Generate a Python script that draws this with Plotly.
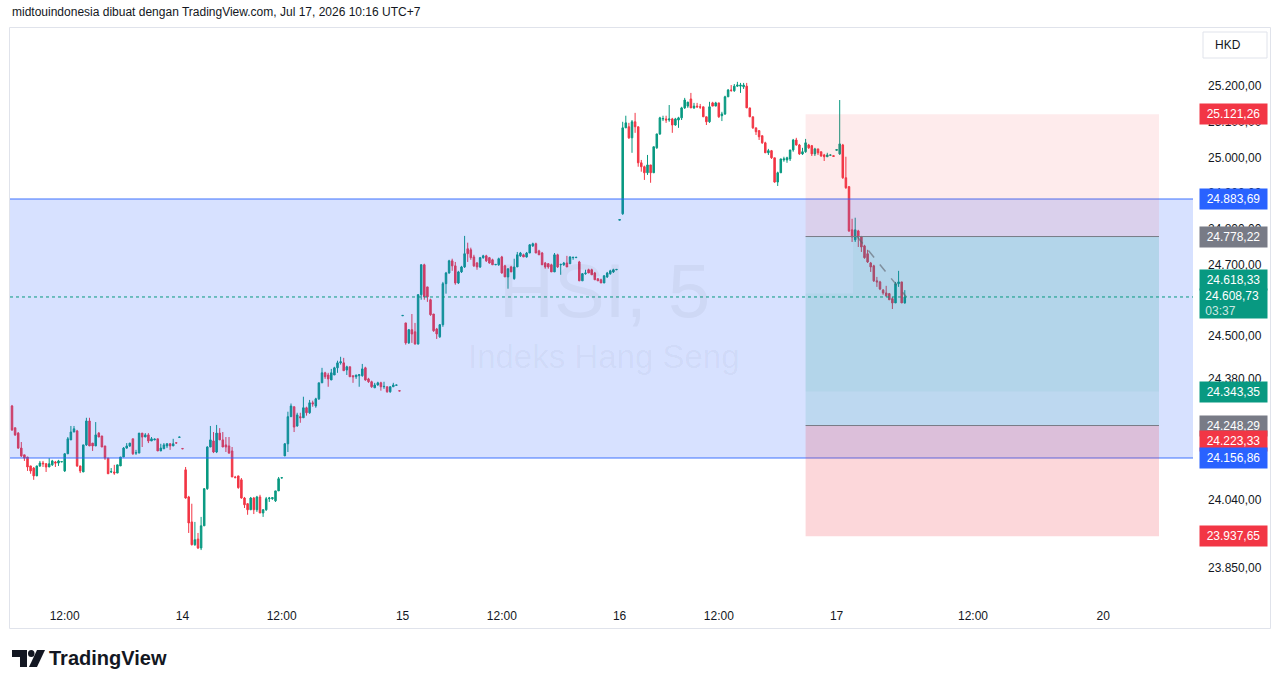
import plotly.graph_objects as go

# ---------------- data (HSI, 5-minute bars) ----------------
d13_open = [24303,24242,24227,24185,24166,24160,24135,24129,24107,24135,24143,24141,24132,24138,24146,24143,24146,24121,24169,24208,24230,24233,24135,24118,24194,24261,24199,24191,24227,24219,24191,24157,24118,24118,24115,24135,24160,24185,24191,24211,24171,24171,24227,24216,24222,24205,24208,24211,24177,24183,24191,24197,24191,24200,24215,24184]
d13_high = [24306,24242,24230,24202,24166,24160,24135,24132,24135,24149,24149,24143,24157,24152,24149,24152,24147,24171,24216,24247,24247,24236,24135,24194,24270,24270,24199,24258,24230,24219,24191,24157,24129,24138,24138,24160,24188,24199,24199,24211,24180,24227,24227,24227,24227,24216,24212,24211,24197,24199,24199,24199,24211,24200,24216,24184]
d13_low = [24233,24219,24183,24160,24149,24121,24113,24096,24107,24132,24132,24118,24132,24135,24132,24135,24146,24118,24169,24208,24230,24132,24115,24118,24191,24191,24177,24191,24216,24188,24152,24113,24115,24110,24115,24135,24160,24183,24188,24166,24166,24171,24188,24216,24199,24205,24207,24177,24177,24183,24185,24180,24191,24199,24215,24183]
d13_close = [24236,24222,24185,24163,24157,24132,24121,24107,24135,24143,24141,24132,24141,24149,24143,24149,24147,24169,24211,24230,24239,24135,24121,24194,24261,24191,24191,24222,24216,24188,24157,24113,24119,24115,24138,24160,24185,24191,24199,24169,24172,24227,24216,24222,24205,24211,24210,24177,24185,24194,24197,24191,24197,24199,24216,24183]

d14_open = [24124,24048,23978,23914,23930,23905,23967,24071,24188,24205,24174,24227,24208,24194,24191,24177,24104,24107,24096,24045,24029,24012,24045,24012,24048,24003,24012,24043,24043,24037,24065,24101,
            24163,24197,24273,24301,24247,24273,24270,24298,24284,24312,24303,24323,24368,24396,24390,24376,24390,24410,24424,24424,24404,24413,24388,24385,24388,24388,24410,24379,24371,24354,24362,24368,24357,24357,24343,24357,24361,24346]
d14_high = [24132,24051,24029,23978,23947,23992,24073,24190,24247,24230,24250,24241,24230,24216,24216,24188,24107,24107,24101,24048,24031,24048,24048,24051,24054,24014,24048,24048,24047,24065,24104,24102,
            24199,24287,24310,24301,24284,24284,24329,24301,24320,24318,24326,24368,24410,24399,24396,24407,24413,24430,24441,24438,24416,24413,24388,24390,24392,24421,24413,24382,24374,24368,24371,24371,24371,24357,24358,24368,24362,24346]
d14_low = [24043,23947,23912,23911,23902,23899,23967,24068,24188,24171,24171,24208,24188,24174,24169,24104,24101,24071,24043,24017,23998,24012,24000,24006,24003,23992,24009,24034,24040,24034,24065,24100,
           24163,24174,24273,24230,24245,24256,24270,24276,24281,24301,24298,24320,24368,24379,24357,24376,24390,24396,24419,24402,24390,24385,24368,24379,24357,24385,24374,24368,24354,24354,24360,24346,24351,24340,24340,24357,24361,24345]
d14_close = [24045,23975,23914,23928,23905,23967,24071,24188,24208,24174,24227,24208,24188,24188,24171,24104,24102,24074,24045,24026,24012,24045,24012,24048,24003,24012,24043,24045,24046,24065,24099,24102,
             24197,24273,24303,24244,24278,24270,24298,24284,24312,24309,24323,24368,24396,24385,24379,24396,24410,24424,24427,24402,24413,24385,24385,24390,24391,24407,24376,24371,24357,24362,24368,24357,24358,24343,24357,24362,24362,24345]

d15_open = [24556,24536,24480,24517,24511,24477,24615,24699,24637,24601,24561,24519,24497,24531,24646,24676,24710,24696,24648,24679,24693,24744,24741,24721,24704,24693,24719,24724,
            24719,24713,24699,24699,24721,24696,24665,24693,24660,24693,24724,24727,24721,24732,24752,24758,24738,24732,24704,24702,24699,24679,24727,24699,24699,24704,
            24702,24719,24719,24707,24654,24674,24685,24685,24676,24660,24657,24648,24665,24674,24679,24685]
d15_high = [24557,24536,24519,24561,24536,24617,24701,24702,24637,24604,24561,24522,24533,24651,24679,24713,24716,24707,24682,24696,24780,24761,24747,24727,24707,24721,24727,24727,
            24721,24716,24700,24719,24724,24699,24688,24696,24716,24735,24735,24730,24735,24757,24761,24761,24741,24735,24707,24704,24702,24732,24730,24702,24707,24724,
            24723,24721,24720,24710,24676,24685,24688,24688,24679,24660,24660,24670,24679,24685,24688,24686]
d15_low = [24556,24475,24477,24480,24475,24475,24601,24601,24595,24556,24511,24491,24494,24525,24618,24674,24682,24643,24645,24676,24690,24707,24713,24693,24685,24690,24716,24707,
           24702,24699,24698,24696,24674,24665,24632,24679,24657,24693,24721,24721,24719,24732,24749,24732,24727,24699,24688,24688,24679,24679,24690,24671,24696,24693,
           24702,24713,24718,24654,24654,24671,24676,24671,24657,24654,24648,24648,24662,24671,24676,24684]
d15_close = [24557,24480,24517,24505,24477,24615,24699,24609,24609,24559,24514,24505,24531,24646,24676,24710,24696,24648,24679,24693,24730,24730,24719,24696,24693,24719,24724,24710,
             24704,24699,24700,24716,24676,24665,24688,24679,24693,24727,24732,24721,24732,24755,24758,24732,24727,24699,24693,24693,24679,24727,24693,24700,24704,24693,
             24721,24720,24720,24654,24674,24676,24676,24671,24657,24654,24648,24668,24676,24682,24685,24686]

d16_open = [24824,24842,25083,25086,25055,25100,25086,24985,24974,24957,24979,24957,25027,25066,25108,25108,25105,25108,25091,25105,25111,25139,25144,25164,25139,25144,25142,25142,25114,25100,
            25153,25144,25153,25117,25122,25170,25189,25187,25200,25200,25198,25200,25139,25114,25083,25075,25061,25041,25013,25019,24999,24931,24957,24993,24993,24996,25021,25049,25035,25010,
            25016,25035,25033,25010,25024,25016,25007,25002,25006,25005]
d16_high = [24826,25100,25117,25097,25105,25125,25086,24993,24977,25007,24979,25030,25066,25114,25117,25117,25147,25111,25111,25114,25142,25167,25156,25181,25153,25153,25150,25142,25114,25156,
            25156,25156,25153,25128,25173,25192,25203,25206,25212,25209,25209,25209,25139,25114,25083,25077,25061,25044,25024,25021,24999,24960,24996,25002,25002,25021,25052,25055,25038,25027,
            25052,25038,25035,25027,25024,25016,25010,25013,25008,25005]
d16_low = [24824,24839,25083,25052,25013,25069,24974,24960,24937,24951,24929,24957,25024,25063,25102,25097,25100,25069,25089,25083,25105,25136,25139,25139,25136,25139,25136,25114,25091,25097,
           25144,25144,25111,25102,25119,25170,25184,25184,25198,25181,25192,25139,25114,25080,25063,25049,25038,25013,25007,24996,24929,24920,24957,24988,24985,24990,25016,25033,25007,25007,
           25013,25024,25004,25004,25007,25002,24990,25002,25006,25003]
d16_close = [24826,25083,25097,25055,25100,25086,24985,24974,24957,24979,24957,25030,25066,25111,25109,25105,25108,25091,25108,25111,25139,25161,25155,25139,25144,25142,25141,25114,25100,25142,
             25144,25153,25114,25122,25170,25189,25188,25200,25203,25203,25203,25139,25114,25083,25072,25058,25041,25013,25019,24999,24931,24957,24996,24996,24999,25021,25049,25035,25010,25016,
             25041,25027,25010,25024,25013,25004,25002,25007,25007,25003]

d17_open = [25020,25010,25035,24943,24918,24797,24769,24794,24777,24752,24730,24704,24696,24654,24651,24628,24620,24618,24604,24592,24646,24651,24592]
d17_high = [25022,25161,25038,25002,24920,24828,24831,24797,24780,24755,24741,24707,24699,24665,24654,24631,24640,24620,24609,24651,24682,24651,24628]
d17_low = [25020,25007,24940,24912,24791,24763,24763,24749,24735,24716,24704,24679,24651,24637,24628,24615,24609,24601,24575,24592,24637,24592,24590]
d17_close = [25022,25038,24943,24915,24794,24777,24797,24780,24749,24719,24707,24693,24654,24651,24631,24620,24612,24601,24592,24646,24651,24592,24608.73]

# first bar index of each session on the (gap-free) bar axis
day_start_bar = [0, 56, 126, 196, 266]

# time-axis labels
time_tick_bars = [17, 55, 87, 126, 158, 196, 228, 266, 310, 352]
time_tick_text = ["12:00", "14", "12:00", "15", "12:00", "16", "12:00", "17", "12:00", "20"]

# price-axis ticks
price_ticks = [25200, 25100, 25000, 24900, 24800, 24700, 24500, 24380, 24260, 24040, 23850]

# drawings
zone_top, zone_bottom = 24883.69, 24156.86
stop_top = 25121.26
entry_top, entry_bottom = 24778.22, 24248.29
inner_top, inner_bottom = 24618.33, 24343.35
stop_low_label = 24223.33
target_bottom = 23937.65
last_price = 24608.73
tool_start_bar, tool_inner_bar, tool_end_bar = 256, 271.3, 370
proj_start_bar, proj_end_bar = 272.6, 288.5

# ---------------- build ----------------
days = [
    (d13_open, d13_high, d13_low, d13_close),
    (d14_open, d14_high, d14_low, d14_close),
    (d15_open, d15_high, d15_low, d15_close),
    (d16_open, d16_high, d16_low, d16_close),
    (d17_open, d17_high, d17_low, d17_close),
]
xs, o, h, l, c = [], [], [], [], []
for start, (O, H, L, C) in zip(day_start_bar, days):
    xs += [start + k for k in range(len(O))]
    o += O; h += H; l += L; c += C

FIG_W, FIG_H = 1281, 688
M_L, M_R, M_T, M_B = 10, 88, 28, 88
PW = FIG_W - M_L - M_R
PH = FIG_H - M_T - M_B


def pxx(xp):
    return (xp - M_L) / PW


def pxy(yp):
    return (FIG_H - M_B - yp) / PH


def fmt(v):
    s = f"{v:,.2f}"
    return s.replace(",", "X").replace(".", ",").replace("X", ".")


FONT = "Liberation Sans, Arial, sans-serif"
TXT = "#131722"
UP, DOWN = "#089981", "#F23645"

fig = go.Figure()
fig.add_trace(go.Candlestick(
    x=xs, open=o, high=h, low=l, close=c,
    increasing=dict(line=dict(color=UP, width=1), fillcolor=UP),
    decreasing=dict(line=dict(color=DOWN, width=1), fillcolor=DOWN),
    whiskerwidth=0, hoverinfo="skip", showlegend=False,
))

shapes = []
# blue horizontal zone
shapes.append(dict(type="rect", xref="paper", yref="y", x0=0, x1=1, y0=zone_bottom, y1=zone_top,
                   fillcolor="rgba(41,98,255,0.19)", line=dict(width=0), layer="above"))
for yv in (zone_top, zone_bottom):
    shapes.append(dict(type="line", xref="paper", yref="y", x0=0, x1=1, y0=yv, y1=yv,
                       line=dict(color="rgba(41,98,255,0.6)", width=1.5), layer="above"))
# position tool
shapes.append(dict(type="rect", xref="x", yref="y", x0=tool_start_bar, x1=tool_end_bar, y0=entry_top, y1=stop_top,
                   fillcolor="rgba(242,54,69,0.1)", line=dict(width=0), layer="above"))
shapes.append(dict(type="rect", xref="x", yref="y", x0=tool_start_bar, x1=tool_end_bar, y0=entry_bottom, y1=entry_top,
                   fillcolor="rgba(8,153,129,0.12)", line=dict(width=0), layer="above"))
shapes.append(dict(type="rect", xref="x", yref="y", x0=tool_start_bar, x1=tool_end_bar, y0=target_bottom, y1=entry_bottom,
                   fillcolor="rgba(242,54,69,0.2)", line=dict(width=0), layer="above"))
shapes.append(dict(type="rect", xref="x", yref="y", x0=tool_inner_bar, x1=tool_end_bar, y0=inner_top, y1=entry_top,
                   fillcolor="rgba(8,153,129,0.05)", line=dict(width=0), layer="above"))
shapes.append(dict(type="rect", xref="x", yref="y", x0=tool_start_bar, x1=tool_end_bar, y0=inner_bottom, y1=inner_top,
                   fillcolor="rgba(8,153,129,0.05)", line=dict(width=0), layer="above"))
for yv in (entry_top, entry_bottom):
    shapes.append(dict(type="line", xref="x", yref="y", x0=tool_start_bar, x1=tool_end_bar, y0=yv, y1=yv,
                       line=dict(color="#787B86", width=1), layer="above"))
# projection (dashed)
shapes.append(dict(type="line", xref="x", yref="y", x0=proj_start_bar, x1=proj_end_bar, y0=entry_top, y1=last_price,
                   line=dict(color="rgba(93,96,107,0.6)", width=1.5, dash="dash"), layer="above"))
# last price dotted line
shapes.append(dict(type="line", xref="paper", yref="y", x0=0, x1=1, y0=last_price, y1=last_price,
                   line=dict(color=UP, width=1, dash="dot"), layer="above"))
# frame
shapes.append(dict(type="rect", xref="paper", yref="paper", x0=pxx(9.5), x1=pxx(1270.5), y0=pxy(628.5), y1=pxy(27.5),
                   line=dict(color="#E0E3EB", width=1), fillcolor="rgba(0,0,0,0)", layer="below"))
# HKD box
shapes.append(dict(type="rect", xref="paper", yref="paper", x0=pxx(1203), x1=pxx(1267), y0=pxy(58), y1=pxy(32),
                   line=dict(color="#E0E3EB", width=1), fillcolor="white", layer="above"))


# TradingView logo glyph
def P(pts):
    return "M " + " L ".join(f"{pxx(a):.5f},{pxy(b):.5f}" for a, b in pts) + " Z"


shapes.append(dict(type="path", xref="paper", yref="paper",
                   path=P([(12, 650), (27, 650), (27, 667), (20, 667), (20, 657), (12, 657)]),
                   fillcolor="#131722", line=dict(width=0)))
shapes.append(dict(type="circle", xref="paper", yref="paper", x0=pxx(28), x1=pxx(34.5), y0=pxy(657), y1=pxy(650),
                   fillcolor="#131722", line=dict(width=0)))
shapes.append(dict(type="path", xref="paper", yref="paper",
                   path=P([(37, 650), (45, 650), (37, 667), (29, 667)]),
                   fillcolor="#131722", line=dict(width=0)))

ann = []
# watermark
ann.append(dict(text="HSI, 5", xref="paper", yref="paper", x=pxx(604), y=pxy(290), showarrow=False,
                font=dict(family=FONT, size=76, color="rgba(19,23,34,0.045)")))
ann.append(dict(text="Indeks Hang Seng", xref="paper", yref="paper", x=pxx(604), y=pxy(356), showarrow=False,
                font=dict(family=FONT, size=33, color="rgba(19,23,34,0.045)")))
# header
ann.append(dict(text="midtouindonesia dibuat dengan TradingView.com, Jul 17, 2026 10:16 UTC+7", xref="paper", yref="paper",
                x=pxx(10), y=pxy(12), xanchor="left", yanchor="middle", showarrow=False,
                font=dict(family=FONT, size=12, color=TXT)))
# HKD
ann.append(dict(text="HKD", xref="paper", yref="paper", x=pxx(1213), y=pxy(45), xanchor="left", yanchor="middle",
                showarrow=False, font=dict(family=FONT, size=12, color=TXT)))
# TradingView wordmark
ann.append(dict(text="<b>TradingView</b>", xref="paper", yref="paper", x=pxx(47), y=pxy(658), xanchor="left",
                yanchor="middle", showarrow=False, font=dict(family=FONT, size=20, color=TXT)))

# price labels on the axis
labels = [
    (stop_top, "#F23645", 0),
    (zone_top, "#2962FF", 0),
    (entry_top, "#787B86", 0),
    (inner_top, UP, 14),
    (inner_bottom, UP, 0),
    (entry_bottom, "#787B86", 0),
    (stop_low_label, "#F23645", -7),
    (zone_bottom, "#2962FF", 0),
    (target_bottom, "#F23645", 0),
]
for val, col, ys in labels:
    ann.append(dict(text=fmt(val), xref="paper", yref="y", x=pxx(1199), y=val, xanchor="left", yanchor="middle",
                    yshift=ys, showarrow=False, bgcolor=col, width=63, height=16, borderpad=2, align="center",
                    font=dict(family=FONT, size=12, color="white")))
ann.append(dict(text="&nbsp;" + fmt(last_price) + "<br>&nbsp;<span style='color:rgba(255,255,255,0.8)'>03:37</span>",
                xref="paper", yref="y",
                x=pxx(1199), y=last_price, xanchor="left", yanchor="middle", yshift=-7, showarrow=False, bgcolor=UP,
                width=63, height=25, borderpad=2, align="left",
                font=dict(family=FONT, size=12, color="white")))

fig.update_layout(
    width=FIG_W, height=FIG_H,
    margin=dict(l=M_L, r=M_R, t=M_T, b=M_B),
    paper_bgcolor="white", plot_bgcolor="white",
    shapes=shapes, annotations=ann, showlegend=False,
    xaxis=dict(range=[-0.645, 380.97], rangeslider=dict(visible=False), showgrid=False, zeroline=False,
               tickvals=time_tick_bars, ticktext=time_tick_text, ticks="", ticklabelstandoff=7,
               tickfont=dict(family=FONT, size=12, color=TXT), showline=False, fixedrange=True),
    yaxis=dict(side="right", range=[23759, 25363], showgrid=False, zeroline=False,
               tickvals=price_ticks, ticktext=[fmt(v) for v in price_ticks], ticks="", ticklabelstandoff=14,
               tickfont=dict(family=FONT, size=12, color=TXT), showline=False, fixedrange=True),
)

fig.write_html("out.html")
